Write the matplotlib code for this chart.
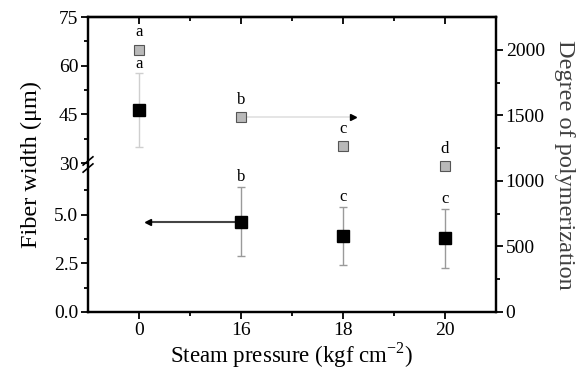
import numpy as np
import matplotlib
matplotlib.use("Agg")
import matplotlib.pyplot as plt
from matplotlib.ticker import FixedLocator, FuncFormatter

plt.rcParams['font.family'] = ['Liberation Serif', 'DejaVu Serif']
plt.rcParams['mathtext.fontset'] = 'custom'
plt.rcParams['mathtext.rm'] = 'Liberation Serif'

# data
pressure = ["0", "16", "18", "20"]
width = [46.3, 4.64, 3.90, 3.78]
width_err = [11.3, 1.78, 1.50, 1.52]
width_letters = ["a", "b", "c", "c"]
dp = [2000, 1486, 1267, 1114]
dp_err = [0, 20, 22, 20]
dp_letters = ["a", "b", "c", "d"]


# broken left axis: 0-7.5 in the lower half, 30-75 in the upper half
def fwd(y):
    y = np.asarray(y, dtype=float)
    return np.where(y <= 7.5, y / 7.5,
                    np.where(y >= 30, 1.02 + (y - 30) / 45, 1 + (y - 7.5) / 22.5 * 0.02))


def inv(t):
    t = np.asarray(t, dtype=float)
    return np.where(t <= 1, t * 7.5,
                    np.where(t >= 1.02, 30 + (t - 1.02) * 45, 7.5 + (t - 1) / 0.02 * 22.5))


fig = plt.figure(figsize=(5.84, 3.72), dpi=100)
ax = fig.add_axes([0.1507, 0.1613, 0.6986, 0.793])
ax.set_yscale('function', functions=(fwd, inv))
ax.set_ylim(0, 75)
x = np.arange(len(pressure))
ax.set_xlim(-0.5, 3.5)

ax2 = ax.twinx()
ax2.set_ylim(0, 2250)

# black squares, fiber width
err_cols = ["#cfcfcf", "#9a9a9a", "#9a9a9a", "#9a9a9a"]
for i in range(len(x)):
    ax.errorbar(x[i], width[i], yerr=width_err[i], fmt='none', ecolor=err_cols[i],
                elinewidth=1, capsize=3, capthick=1, zorder=2)
ax.plot(x, width, 's', color='black', ms=8, ls='none', zorder=3)
for i in range(len(x)):
    ax.annotate(width_letters[i], (x[i], width[i] + width_err[i]), xytext=(0, 7),
                textcoords='offset points', ha='center', va='center', fontsize=12)

# gray squares, degree of polymerization
ax2.errorbar(x, dp, yerr=dp_err, fmt='s', color='#b9b9b9', mec='#555555', mew=0.8,
             ms=7, ecolor='#555555', elinewidth=0.7, capsize=2, capthick=0.7, zorder=3)
for i in range(len(x)):
    ax2.annotate(dp_letters[i], (x[i], dp[i]), xytext=(0, 12.5),
                 textcoords='offset points', ha='center', va='center', fontsize=12)

# arrows showing which axis each series belongs to
ax.plot([x[1] - 0.05, 0.1], [width[1], width[1]], color='#444444', lw=1.5, zorder=1)
ax.plot([0.09], [width[1]], marker='<', color='black', ms=4.5, zorder=1)
ax2.plot([x[1] + 0.05, 2.08], [dp[1], dp[1]], color='#e3e3e3', lw=1.3, zorder=1)
ax2.plot([2.1], [dp[1]], marker='>', color='black', ms=4.5, zorder=1)

# ticks
major_left = [0, 2.5, 5.0, 30, 45, 60, 75]
minor_left = [1.25, 3.75, 6.25, 37.5, 52.5, 67.5]
ax.yaxis.set_major_locator(FixedLocator(major_left))
ax.yaxis.set_minor_locator(FixedLocator(minor_left))
ax.yaxis.set_major_formatter(FuncFormatter(lambda v, p: f"{v:.1f}" if v < 10 else f"{v:.0f}"))
ax.set_xticks(x)
ax.set_xticklabels(pressure)
ax.set_xticks([0.5, 1.5, 2.5], minor=True)
ax.tick_params(axis='both', which='major', direction='out', length=5, width=1.3, labelsize=14,
               pad=2)
ax.tick_params(axis='both', which='minor', direction='out', length=3, width=1.3)
ax2.set_yticks([0, 500, 1000, 1500, 2000])
ax2.set_yticks([250, 750, 1250, 1750], minor=True)
ax2.tick_params(axis='y', which='major', direction='out', length=5, width=1.3, labelsize=14,
                pad=2)
ax2.tick_params(axis='y', which='minor', direction='out', length=3, width=1.3)

# inward ticks on the top spine
top = ax.secondary_xaxis('top')
top.set_xticks(x)
top.set_xticks([0.5, 1.5, 2.5], minor=True)
top.tick_params(which='major', direction='in', length=5, width=1.3, labeltop=False)
top.tick_params(which='minor', direction='in', length=3, width=1.3)
top.spines['top'].set_linewidth(1.6)

for a in (ax, ax2):
    for s in a.spines.values():
        s.set_linewidth(1.6)

# break marks on left spine
yb = (fwd(7.5) + fwd(30)) / 2 / fwd(75)
ax.plot([-0.012, 0.012], [yb - 0.012 - 0.014, yb - 0.012 + 0.014], transform=ax.transAxes,
        color='black', lw=1.2, clip_on=False, zorder=5)
ax.plot([-0.012, 0.012], [yb + 0.012 - 0.014, yb + 0.012 + 0.014], transform=ax.transAxes,
        color='black', lw=1.2, clip_on=False, zorder=5)

ax.set_xlabel("Steam pressure (kgf cm$^{\\mathrm{-2}}$)", fontsize=16.5, labelpad=1)
ax.set_ylabel("Fiber width (\u03bcm)", fontsize=17.5, labelpad=9)
ax2.set_ylabel("Degree of polymerization", fontsize=17.5, color='#404040', rotation=270,
               labelpad=22)

fig.savefig("out.png", dpi=100)
